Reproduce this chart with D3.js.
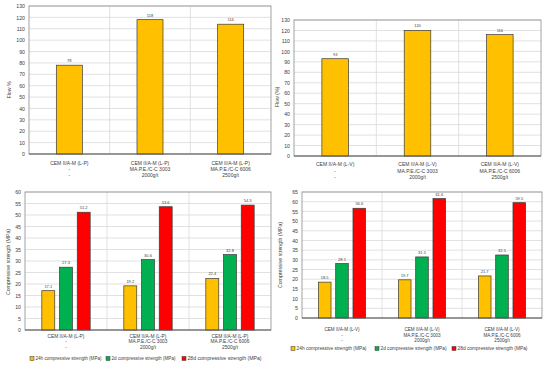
<!DOCTYPE html>
<html><head><meta charset="utf-8">
<script src="https://cdn.jsdelivr.net/npm/d3@7/dist/d3.min.js"></script>
<style>body{margin:0;background:#fff}svg{display:block}text{font-family:"Liberation Sans",Arial,sans-serif;fill:#404040}</style>
</head><body><svg id="c" width="550" height="369"></svg>
<script>
// ---- data ----
const catsLP = [["CEM II/A-M (L-P)","-","-"],["CEM II/A-M (L-P)","MA.P.E./C-C 3003","2000g/t"],["CEM II/A-M (L-P)","MA.P.E./C-C 6006","2500g/t"]];
const catsLV = [["CEM II/A-M (L-V)","-","-"],["CEM II/A-M (L-V)","MA.P.E./C-C 3003","2000g/t"],["CEM II/A-M (L-V)","MA.P.E./C-C 6006","2500g/t"]];
const flowLP = [78,118,114];
const flowLV = [93,120,116];
const flowTicks = [0,10,20,30,40,50,60,70,80,90,100,110,120,130];
const series = ["24h compressive strength (MPa)","2d compressive strength (MPa)","28d compressive strength (MPa)"];
const h24LP = [17.1,19.2,22.4], d2LP = [27.3,30.6,32.8], d28LP = [51.2,53.6,54.3];
const h24LV = [18.5,19.7,21.7], d2LV = [28.1,31.5,32.5], d28LV = [56.6,61.6,59.5];
const strTicksLP = [0,5,10,15,20,25,30,35,40,45,50,55,60];
const strTicksLV = [0,5,10,15,20,25,30,35,40,45,50,55,60,65];
const colors = ["#FFC000","#00B050","#FF0000"];

const svg = d3.select("#c");

function panel(o){
  const g = svg.append("g");
  const x = d3.scaleBand().domain(d3.range(o.cats.length)).range([o.x0,o.x1]);
  const y = d3.scaleLinear().domain([0,o.max]).range([o.y1,o.y0]);
  g.selectAll(".gy").data(o.ticks).join("line")
    .attr("x1",o.x0).attr("x2",o.x1).attr("y1",d=>y(d)).attr("y2",d=>y(d))
    .attr("stroke","#d9d9d9").attr("stroke-width",0.8);
  g.selectAll(".gx").data(d3.range(1,o.cats.length)).join("line")
    .attr("x1",d=>x(d)).attr("x2",d=>x(d)).attr("y1",o.y0).attr("y2",o.y1)
    .attr("stroke","#d9d9d9").attr("stroke-width",0.8);
  g.append("rect").attr("x",o.x0).attr("y",o.y0).attr("width",o.x1-o.x0).attr("height",o.y1-o.y0)
    .attr("fill","none").attr("stroke","#8c8c8c").attr("stroke-width",0.8);
  const ya = d3.axisLeft(y).tickValues(o.ticks).tickSize(0).tickPadding(4);
  const yg = g.append("g").attr("transform",`translate(${o.x0},0)`).call(ya);
  yg.select(".domain").remove();
  yg.selectAll("text").attr("font-size",5.2).style("font-family","Liberation Sans, Arial").attr("fill","#404040");
  const n = o.series.length;
  const inner = d3.scaleBand().domain(d3.range(n)).range([0,x.bandwidth()]).paddingInner(o.pin).paddingOuter(o.pout);
  o.series.forEach((vals,si)=>{
    g.selectAll(".b"+si).data(vals).join("rect")
      .attr("x",(d,i)=>x(i)+inner(si)).attr("width",inner.bandwidth())
      .attr("y",d=>y(d)).attr("height",d=>y(0)-y(d))
      .attr("fill",colors[si]).attr("stroke","#3a3a3a").attr("stroke-width",0.7);
    g.selectAll(".l"+si).data(vals).join("text")
      .attr("x",(d,i)=>x(i)+inner(si)+inner.bandwidth()/2).attr("y",d=>y(d)-3)
      .attr("text-anchor","middle").attr("font-size",4).text(d=>String(d));
  });
  g.append("line").attr("x1",o.x0).attr("x2",o.x1).attr("y1",o.y1).attr("y2",o.y1).attr("stroke","#595959").attr("stroke-width",0.9);
  o.cats.forEach((lines,i)=>{
    lines.forEach((t,j)=>{
      g.append("text").attr("x",x(i)+x.bandwidth()/2).attr("y",o.catY+j*o.catDy)
        .attr("text-anchor","middle").attr("font-size",o.catFs).text(t);
    });
  });
  g.append("text").attr("transform",`translate(${o.tx},${o.ty}) rotate(-90)`)
    .attr("text-anchor","middle").attr("font-size",5.2).text(o.title);
  if(o.legend){
    o.legend.forEach((lx,i)=>{
      g.append("rect").attr("x",lx).attr("y",o.legY-3.5).attr("width",4).attr("height",4)
        .attr("fill",colors[i]).attr("stroke","#3a3a3a").attr("stroke-width",0.5);
      g.append("text").attr("x",lx+5.5).attr("y",o.legY).attr("font-size",4.8)
        .attr("textLength",o.legW[i]).attr("lengthAdjust","spacingAndGlyphs").text(series[i]);
    });
  }
}

panel({cats:catsLP,series:[flowLP],x0:29,x1:271,y0:6,y1:154,max:130,ticks:flowTicks,
  pin:0,pout:1.05,catY:165,catDy:6,catFs:5,title:"Flow %",tx:11,ty:90});
panel({cats:catsLV,series:[flowLV],x0:294,x1:541,y0:20,y1:156,max:130,ticks:flowTicks,
  pin:0,pout:1.05,catY:166,catDy:6.5,catFs:5,title:"Flow (%)",tx:279,ty:97});
panel({cats:catsLP,series:[h24LP,d2LP,d28LP],x0:25,x1:271,y0:192,y1:330,max:60,ticks:strTicksLP,
  pin:0.27,pout:0.95,catY:338,catDy:5.4,catFs:4.8,title:"Compressive strength (MPa)",tx:10,ty:262,
  legend:[30,106,182],legW:[66,64,74],legY:360});
panel({cats:catsLV,series:[h24LV,d2LV,d28LV],x0:302,x1:542,y0:192,y1:318,max:65,ticks:strTicksLV,
  pin:0.27,pout:0.95,catY:331,catDy:5.6,catFs:4.6,title:"Compressive strength (MPa)",tx:282,ty:255,
  legend:[291,375,452],legW:[70,66,70],legY:350});
</script></body></html>
